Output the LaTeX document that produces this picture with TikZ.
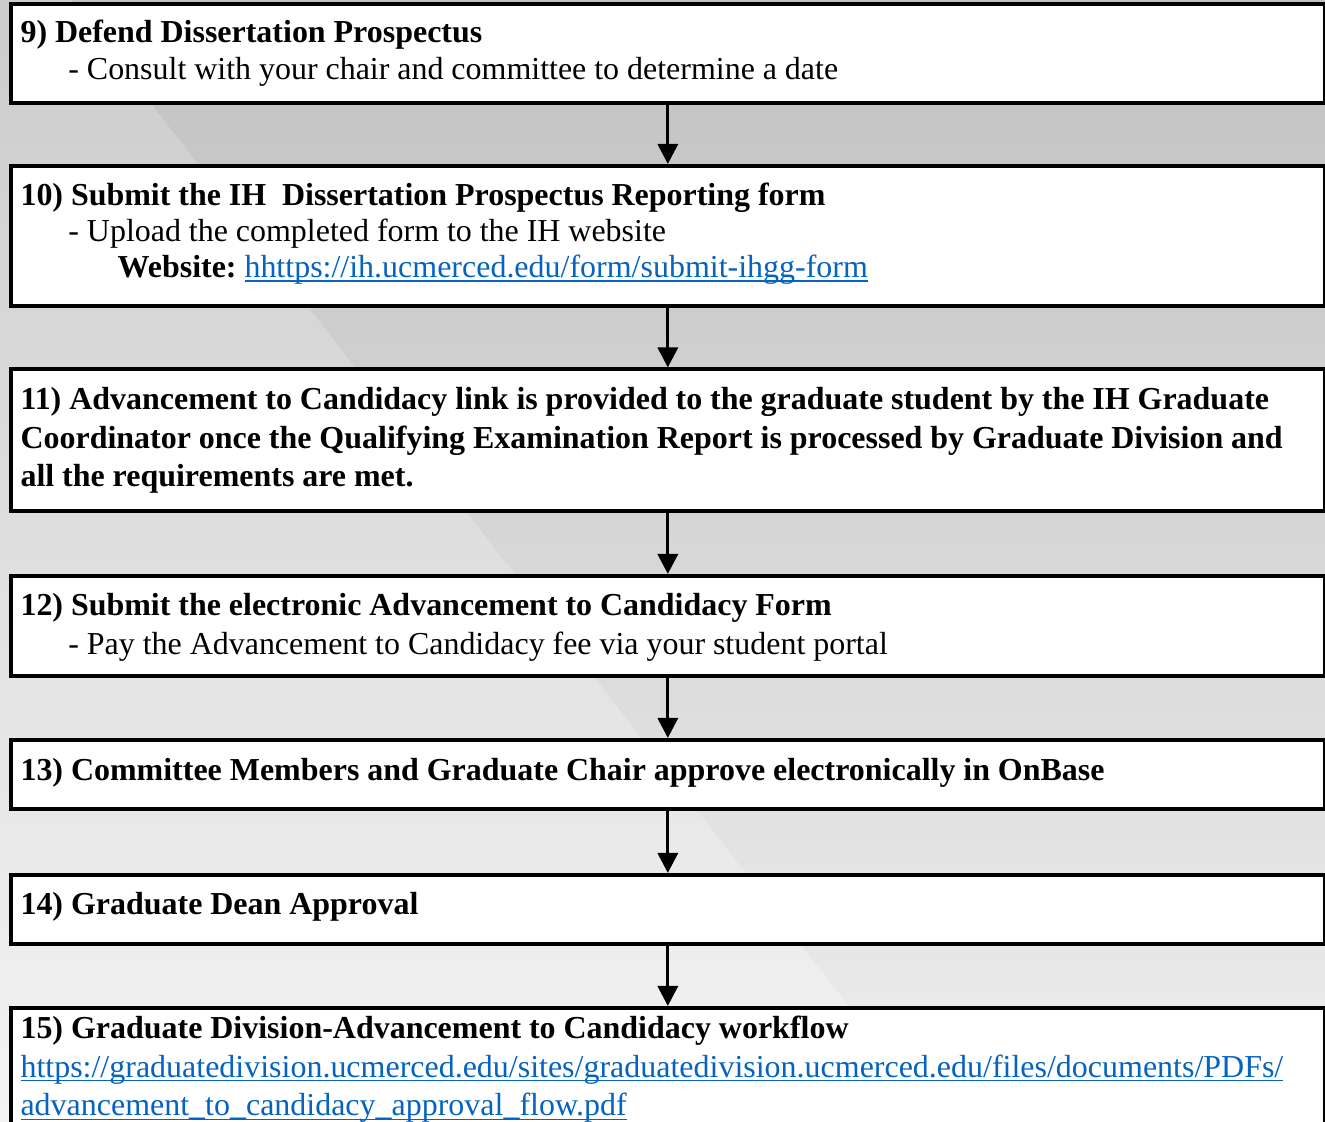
\documentclass[tikz,border=0pt]{standalone}
\usepackage{fontspec}
\setmainfont{Liberation Serif}
\usetikzlibrary{arrows.meta}

\definecolor{bgdarktop}{gray}{0.756}
\definecolor{bgdarkbot}{gray}{0.933}
\definecolor{bglighttop}{gray}{0.798}
\definecolor{bglightbot}{gray}{0.954}
\definecolor{linkblue}{HTML}{0563C1}

\newcommand{\weblink}[1]{\leavevmode{\color{linkblue}\setbox0\hbox{#1}\rlap{\vrule height -1.1pt depth 1.6pt width \wd0}\box0}}

\begin{document}
\begin{tikzpicture}[x=0.38pt,y=-0.38pt,>={Triangle[width=7.6pt,length=7.6pt]},
  stepbox/.style={draw,line width=1.52pt,fill=white,anchor=north west,inner sep=0pt,minimum width=499.2pt},
  steptext/.style={anchor=base west,inner sep=0pt,text width=494pt,align=left,font=\fontsize{12.15}{13.7}\selectfont,
    execute at begin node={\frenchspacing\spaceskip=3.0pt\relax}},
  loose/.style={font=\fontsize{12.15}{14.7}\selectfont},
  flow/.style={->,line width=1.25pt}]
\def\ind{\hspace*{18.2pt}}
\def\indd{\hspace*{36.9pt}}

\useasboundingbox (0,0) rectangle (1325,1122);
\clip (0,0) rectangle (1325,1122);

% background
\shade[top color=bgdarktop,bottom color=bgdarkbot] (0,0) rectangle (1325,1122);
\shade[top color=bglighttop,bottom color=bglightbot] (0,0) -- (71,0) -- (938,1122) -- (0,1122) -- cycle;

% boxes
\node[stepbox,minimum height=37.6pt] (s9) at (9,2.5) {};
\node[stepbox,minimum height=53.2pt] (s10) at (9,164) {};
\node[stepbox,minimum height=53.8pt] (s11) at (9,367.5) {};
\node[stepbox,minimum height=38pt] (s12) at (9,574) {};
\node[stepbox,minimum height=26.2pt] (s13) at (9,738) {};
\node[stepbox,minimum height=26.2pt] (s14) at (9,873) {};
\node[stepbox,minimum height=76pt] (s15) at (9,1006) {};

% texts
\node[steptext] (t9) at (20,43) {\textbf{9) Defend Dissertation Prospectus}\\
  \ind- Consult with your chair and committee to determine a date};
\node[steptext] (t10) at (20,205.5) {\textbf{10) Submit the IH~ Dissertation Prospectus Reporting form}\\
  \ind- Upload the completed form to the IH website\\
  \indd\textbf{Website:} \weblink{hhttps://ih.ucmerced.edu/form/submit-ihgg-form}};
\node[steptext,loose] (t11) at (20,409.5) {\textbf{11) Advancement to Candidacy link is provided to the graduate student by the IH Graduate}\\
  \textbf{Coordinator once the Qualifying Examination Report is processed by Graduate Division and}\\
  \textbf{all the requirements are met.}};
\node[steptext,loose] (t12) at (20,615.5) {\textbf{12) Submit the electronic Advancement to Candidacy Form}\\
  \ind- Pay the Advancement to Candidacy fee via your student portal};
\node[steptext] (t13) at (20,780.5) {\textbf{13) Committee Members and Graduate Chair approve electronically in OnBase}};
\node[steptext] (t14) at (20,914.5) {\textbf{14) Graduate Dean Approval}};
\node[steptext,loose] (t15) at (20,1038.5) {\textbf{15) Graduate Division-Advancement to Candidacy workflow}\\
  \weblink{https://graduatedivision.ucmerced.edu/sites/graduatedivision.ucmerced.edu/files/documents/PDFs/}\\
  \weblink{advancement\_to\_candidacy\_approval\_flow.pdf}};

% arrows
\draw[flow] (s9) -- (s10);
\draw[flow] (s10) -- (s11);
\draw[flow] (s11) -- (s12);
\draw[flow] (s12) -- (s13);
\draw[flow] (s13) -- (s14);
\draw[flow] (s14) -- (s15);

\end{tikzpicture}
\end{document}
